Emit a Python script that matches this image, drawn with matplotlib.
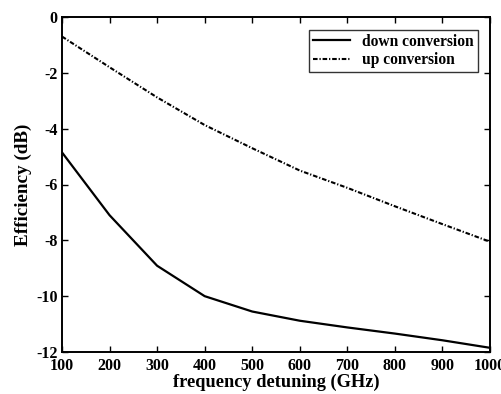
import matplotlib
matplotlib.use("Agg")
import matplotlib.pyplot as plt

freq = [100, 200, 300, 400, 500, 600, 700, 800, 900, 1000]
down_conv = [-4.85, -7.1, -8.91, -10.0, -10.55, -10.88, -11.12, -11.34, -11.58, -11.85]
up_conv = [-0.7, -1.8, -2.88, -3.87, -4.7, -5.5, -6.12, -6.78, -7.42, -8.05]
xticks = [100, 200, 300, 400, 500, 600, 700, 800, 900, 1000]
yticks = [0, -2, -4, -6, -8, -10, -12]

plt.rcParams['font.family'] = ['Liberation Serif', 'DejaVu Serif']
plt.rcParams['font.weight'] = 'bold'

fig = plt.figure(figsize=(5.02, 3.94), dpi=100)
ax = fig.add_axes([62/502, 1-352/394, (490-62)/502, (352-17)/394])

ax.plot(freq, down_conv, color='black', lw=1.6, label='down conversion')
ax.plot(freq, up_conv, color='black', lw=1.5, linestyle=(0, (2.2, 0.9, 0.6, 0.9)), label='up conversion')

ax.set_xlim(100, 1000)
ax.set_ylim(-12, 0)
ax.set_xticks(xticks)
ax.set_yticks(yticks)
ax.set_xticklabels([str(v) for v in xticks], fontsize=11.5, fontweight='bold')
ax.set_yticklabels([str(v) for v in yticks], fontsize=11.5, fontweight='bold')
ax.tick_params(direction='in', top=True, right=True, length=4, width=1, pad=3)
ax.tick_params(axis='x', pad=4)
for s in ax.spines.values():
    s.set_linewidth(1.4)
ax.set_xlabel('frequency detuning (GHz)', fontsize=13.2, fontweight='bold', labelpad=0)
ax.set_ylabel('Efficiency (dB)', fontsize=13.8, fontweight='bold', labelpad=3)

leg = ax.legend(loc='upper right', bbox_to_anchor=(0.99, 0.985), fontsize=11.2, frameon=True,
                fancybox=False, edgecolor='black', handlelength=2.4, borderpad=0.25,
                labelspacing=0.15, handletextpad=0.8)
leg.get_frame().set_linewidth(1.0)
for t in leg.get_texts():
    t.set_fontweight('bold')

fig.savefig('out.png', dpi=100)
